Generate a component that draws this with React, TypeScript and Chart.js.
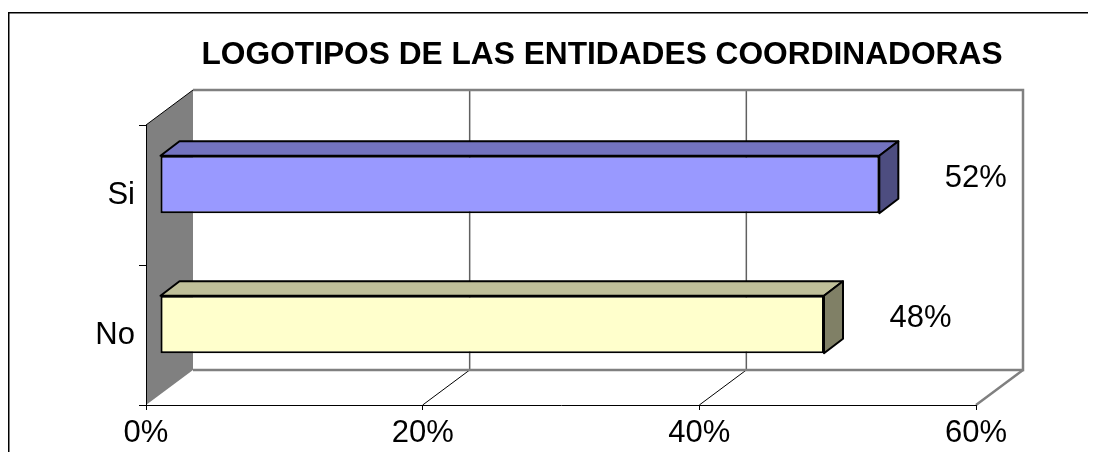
import React, { useEffect, useRef } from 'react';
import { Chart, registerables } from 'chart.js';

Chart.register(...registerables);

const categories = ['Si', 'No'];
const values = [0.52, 0.48];
const xTicks = [0, 0.2, 0.4, 0.6];
const frontColors = ['#9999FF', '#FFFFCC'];
const topColors = ['#7373BF', '#BFBF99'];
const sideColors = ['#4D4D80', '#808066'];
const chartTitle = 'LOGOTIPOS DE LAS ENTIDADES COORDINADORAS';

const FONT = '"Liberation Sans", Arial, sans-serif';
const W = 1088;
const H = 444;
const DEPTH = { x: 47, y: -35 };
const BAR_SHIFT = { x: 14, y: -10.5 };
const BAR_DEPTH = { x: 19, y: -14.5 };

const pct = (v: number) => Math.round(v * 100) + '%';

const scenePlugin = {
  id: 'scene3d',
  beforeDraw(chart: any) {
    const { ctx, chartArea: a, scales } = chart;
    const xs = scales.x;
    ctx.save();
    // outer frame
    ctx.strokeStyle = '#000';
    ctx.lineWidth = 1.5;
    ctx.beginPath();
    ctx.moveTo(0.75, H);
    ctx.lineTo(0.75, 4.75);
    ctx.lineTo(W, 4.75);
    ctx.stroke();

    const bl = a.left + DEPTH.x;
    const bt = a.top + DEPTH.y;
    const br = a.right + DEPTH.x;
    const bb = a.bottom + DEPTH.y;

    // left wall
    ctx.fillStyle = '#808080';
    ctx.beginPath();
    ctx.moveTo(a.left, a.top);
    ctx.lineTo(bl, bt);
    ctx.lineTo(bl, bb);
    ctx.lineTo(a.left, a.bottom);
    ctx.closePath();
    ctx.fill();
    ctx.strokeStyle = '#000';
    ctx.lineWidth = 1;
    ctx.beginPath();
    ctx.moveTo(a.left, a.top);
    ctx.lineTo(bl, bt);
    ctx.stroke();

    // back wall gridlines and floor diagonals
    xTicks.slice(1, -1).forEach((v) => {
      const px = xs.getPixelForValue(v);
      ctx.strokeStyle = '#606060';
      ctx.lineWidth = 1.5;
      ctx.beginPath();
      ctx.moveTo(px + DEPTH.x, bt);
      ctx.lineTo(px + DEPTH.x, bb);
      ctx.stroke();
      ctx.strokeStyle = '#000';
      ctx.lineWidth = 1;
      ctx.beginPath();
      ctx.moveTo(px, a.bottom);
      ctx.lineTo(px + DEPTH.x, bb);
      ctx.stroke();
    });

    // back wall border + floor back/right edges
    ctx.strokeStyle = '#808080';
    ctx.lineWidth = 2.5;
    ctx.beginPath();
    ctx.moveTo(bl, bt);
    ctx.lineTo(br, bt);
    ctx.lineTo(br, bb);
    ctx.lineTo(bl, bb);
    ctx.stroke();
    ctx.beginPath();
    ctx.moveTo(br, bb);
    ctx.lineTo(a.right, a.bottom);
    ctx.stroke();
    ctx.restore();
  },
  beforeDatasetsDraw(chart: any) {
    chart.ctx.save();
    chart.ctx.translate(BAR_SHIFT.x, BAR_SHIFT.y);
  },
  afterDatasetsDraw(chart: any) {
    const ctx = chart.ctx;
    const meta = chart.getDatasetMeta(0);
    meta.data.forEach((el: any, i: number) => {
      const { x, y, base, height } = el.getProps(['x', 'y', 'base', 'height'], true);
      const left = Math.min(base, x);
      const right = Math.max(base, x);
      const top = y - height / 2;
      const bottom = y + height / 2;
      ctx.lineWidth = 2;
      ctx.strokeStyle = '#000';
      ctx.lineJoin = 'round';
      // top face
      ctx.fillStyle = topColors[i];
      ctx.beginPath();
      ctx.moveTo(left, top);
      ctx.lineTo(left + BAR_DEPTH.x, top + BAR_DEPTH.y);
      ctx.lineTo(right + BAR_DEPTH.x, top + BAR_DEPTH.y);
      ctx.lineTo(right, top);
      ctx.closePath();
      ctx.fill();
      ctx.stroke();
      // side face
      ctx.fillStyle = sideColors[i];
      ctx.beginPath();
      ctx.moveTo(right, top);
      ctx.lineTo(right + BAR_DEPTH.x, top + BAR_DEPTH.y);
      ctx.lineTo(right + BAR_DEPTH.x, bottom + BAR_DEPTH.y);
      ctx.lineTo(right, bottom);
      ctx.closePath();
      ctx.fill();
      ctx.stroke();
    });
    ctx.restore();

    // value labels
    ctx.save();
    ctx.fillStyle = '#000';
    ctx.font = `31px ${FONT}`;
    ctx.textAlign = 'center';
    ctx.textBaseline = 'alphabetic';
    meta.data.forEach((el: any, i: number) => {
      const { x, y } = el.getProps(['x', 'y'], true);
      ctx.fillText(pct(values[i]), x + 110.5, y - 8);
    });
    ctx.restore();
  },
  afterDraw(chart: any) {
    const ctx = chart.ctx;
    ctx.save();
    ctx.fillStyle = '#000';
    ctx.font = `bold 31.7px ${FONT}`;
    ctx.textAlign = 'center';
    ctx.textBaseline = 'alphabetic';
    ctx.fillText(chartTitle, 594, 56);
    ctx.restore();
  },
};

export default function App() {
  const ref = useRef<HTMLCanvasElement | null>(null);
  useEffect(() => {
    if (!ref.current) return;
    const chart = new Chart(ref.current, {
      type: 'bar',
      data: {
        labels: categories,
        datasets: [
          {
            data: values,
            backgroundColor: frontColors,
            borderColor: '#000',
            borderWidth: 2,
            borderSkipped: false,
            barPercentage: 0.41,
            categoryPercentage: 1,
          },
        ],
      },
      options: {
        indexAxis: 'y',
        responsive: false,
        animation: false,
        devicePixelRatio: 1,
        layout: { padding: { top: 117, right: 120, left: 0, bottom: 0 } },
        plugins: {
          legend: { display: false },
          tooltip: { enabled: false },
          title: { display: false },
        },
        scales: {
          x: {
            type: 'linear',
            min: 0,
            max: 0.6,
            afterBuildTicks: (s: any) => {
              s.ticks = xTicks.map((v) => ({ value: v }));
            },
            afterFit: (s: any) => {
              s.height = 47;
            },
            ticks: {
              callback: (v: any) => pct(Number(v)),
              color: '#000',
              font: { family: FONT, size: 31 },
              padding: 5,
              maxRotation: 0,
              autoSkip: false,
            },
            grid: {
              drawOnChartArea: false,
              drawTicks: true,
              tickLength: 5,
              color: '#000',
              tickColor: '#000',
            },
            border: { color: '#000', width: 1 },
          },
          y: {
            type: 'category',
            afterFit: (s: any) => {
              s.width = 138;
            },
            ticks: {
              color: '#000',
              font: { family: FONT, size: 31 },
              padding: 4,
            },
            grid: {
              drawOnChartArea: false,
              drawTicks: true,
              tickLength: 7,
              color: '#000',
              tickColor: '#000',
              offset: true,
            },
            border: { color: '#000', width: 1 },
          },
        },
      },
      plugins: [scenePlugin],
    } as any);
    return () => chart.destroy();
  }, []);
  return (
    <div>
      <canvas ref={ref} width={W} height={H} style={{ display: 'block', width: W, height: H }} />
    </div>
  );
}
